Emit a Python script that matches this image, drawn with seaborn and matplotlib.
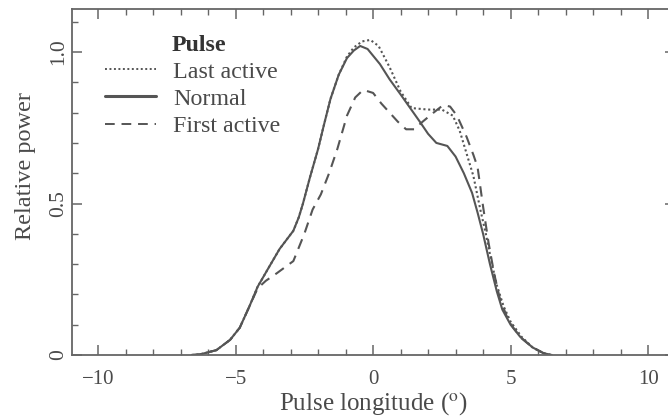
import matplotlib
matplotlib.use("Agg")
import matplotlib.pyplot as plt
import seaborn as sns
import pandas as pd
from matplotlib.ticker import MultipleLocator, FixedLocator
from matplotlib.lines import Line2D

# ---- data ----
normal_x = [-6.6, -6.3, -5.7, -5.2, -4.85, -4.5, -4.2, -3.85, -3.4, -2.9, -2.7, -2.55, -2.3, -2.0, -1.8,
            -1.55, -1.25, -0.95, -0.7, -0.47, -0.2, 0.25, 0.6, 1.0, 1.35, 1.7, 2.0, 2.3, 2.7, 3.0,
            3.3, 3.6, 3.8, 4.0, 4.25, 4.5, 4.7, 5.0, 5.35, 5.8, 6.2, 6.5]
normal_y = [0, 0.002, 0.016, 0.05, 0.09, 0.16, 0.225, 0.28, 0.35, 0.41, 0.455, 0.50, 0.585, 0.68, 0.755,
            0.845, 0.925, 0.98, 1.005, 1.02, 1.01, 0.96, 0.91, 0.86, 0.815, 0.77, 0.73, 0.70, 0.69, 0.655,
            0.60, 0.535, 0.47, 0.40, 0.30, 0.21, 0.15, 0.10, 0.06, 0.025, 0.006, 0]

last_x = [-6.6, -6.3, -5.7, -5.2, -4.85, -4.5, -4.2, -3.85, -3.4, -2.9, -2.7, -2.55, -2.3, -2.0, -1.8,
          -1.55, -1.25, -0.95, -0.7, -0.4, -0.1, 0.2, 0.6, 1.0, 1.4, 2.0, 2.5, 2.9, 3.15, 3.35,
          3.65, 3.9, 4.1, 4.3, 4.5, 4.75, 5.0, 5.4, 5.8, 6.2, 6.5]
last_y = [0, 0.002, 0.016, 0.05, 0.09, 0.16, 0.225, 0.28, 0.35, 0.41, 0.455, 0.50, 0.585, 0.68, 0.755,
          0.845, 0.925, 0.985, 1.015, 1.035, 1.04, 1.02, 0.95, 0.87, 0.815, 0.81, 0.81, 0.79, 0.74, 0.68,
          0.59, 0.48, 0.40, 0.31, 0.23, 0.16, 0.11, 0.06, 0.025, 0.006, 0]

first_x = [-6.6, -6.3, -5.7, -5.2, -4.85, -4.5, -4.2, -3.9, -3.5, -2.9, -2.5, -2.2, -1.9, -1.6,
           -1.3, -0.95, -0.65, -0.36, 0.0, 0.3, 0.6, 0.9, 1.2, 1.5, 1.8, 2.2, 2.55, 2.8, 3.05, 3.4,
           3.65, 3.8, 4.0, 4.2, 4.4, 4.6, 4.85, 5.1, 5.4, 5.8, 6.2, 6.5]
first_y = [0, 0.002, 0.016, 0.05, 0.09, 0.16, 0.22, 0.245, 0.27, 0.31, 0.40, 0.48, 0.53, 0.60,
           0.68, 0.79, 0.85, 0.875, 0.865, 0.83, 0.80, 0.77, 0.745, 0.745, 0.77, 0.80, 0.825, 0.82,
           0.79, 0.72, 0.66, 0.62, 0.49, 0.37, 0.27, 0.19, 0.13, 0.09, 0.055, 0.025, 0.006, 0]

series_names = ["Last active", "Normal", "First active"]
x_ticks = [-10, -5, 0, 5, 10]
x_tick_labels = ["\u221210", "\u22125", "0", "5", "10"]
y_ticks = [0, 0.5, 1.0]
y_tick_labels = ["0", "0.5", "1.0"]

df = pd.concat([
    pd.DataFrame({"x": last_x, "y": last_y, "Pulse": "Last active"}),
    pd.DataFrame({"x": normal_x, "y": normal_y, "Pulse": "Normal"}),
    pd.DataFrame({"x": first_x, "y": first_y, "Pulse": "First active"}),
], ignore_index=True)

sns.set_theme(style="ticks")
plt.rcParams["font.family"] = ["Liberation Serif", "DejaVu Serif"]
plt.rcParams["mathtext.fontset"] = "stix"

grey = "#555555"
txt = "#4a4a4a"

fig = plt.figure(figsize=(6.68, 4.19), dpi=100)
ax = fig.add_axes([72 / 668, 64 / 419, 603 / 668, 346 / 419])

dashes = {"Last active": (1, 1.3), "Normal": "", "First active": (5, 3.5)}
sns.lineplot(data=df, x="x", y="y", hue="Pulse", style="Pulse",
             hue_order=series_names, style_order=series_names,
             palette={n: grey for n in series_names}, dashes=dashes,
             sort=False, estimator=None, linewidth=1.5, ax=ax, legend=False)

ax.set_xlim(-10.95, 10.98)
ax.set_ylim(0, 1.142)

ax.xaxis.set_major_locator(FixedLocator(x_ticks))
ax.set_xticklabels(x_tick_labels)
ax.xaxis.set_minor_locator(MultipleLocator(1))
ax.yaxis.set_major_locator(FixedLocator(y_ticks))
ax.set_yticklabels(y_tick_labels, rotation=90, va="center")
ax.yaxis.set_minor_locator(MultipleLocator(0.1))

ax.tick_params(which="both", direction="in", top=True, right=True, color="#666666",
               labelcolor=txt)
ax.tick_params(axis="x", labelsize=15, pad=10.5)
ax.tick_params(axis="y", labelsize=15.5, pad=3)
ax.tick_params(which="major", length=7, width=1.1)
ax.tick_params(which="minor", length=4, width=1.0)
for s in ax.spines.values():
    s.set_color("#666666")
    s.set_linewidth(1.3)

ax.set_xlabel("Pulse longitude ($^{\\rm o}$)", fontsize=18, color=txt)
ax.xaxis.set_label_coords(0.5, -0.101)
ax.set_ylabel("Relative power", fontsize=17.5, color=txt)
ax.yaxis.label.set_va("center")
ax.yaxis.set_label_coords(-0.0763, 0.546)

handles = [Line2D([], [], color=grey, lw=1.4, dashes=(1, 1.3)),
           Line2D([], [], color=grey, lw=2.2),
           Line2D([], [], color=grey, lw=1.4, dashes=(5, 3.5))]
leg = ax.legend(handles, series_names, loc="upper left", bbox_to_anchor=(0.0547, 0.85),
                frameon=False, borderpad=0, borderaxespad=0, handlelength=2.12,
                handletextpad=0.72, labelspacing=0.22, fontsize=17.3)
for t in leg.get_texts():
    t.set_color(txt)
ax.text(0.166, 0.895, "Pulse", transform=ax.transAxes, fontsize=17.3, fontweight="bold",
        color="#333333", va="center", ha="left")

fig.savefig("out.png", dpi=100)
